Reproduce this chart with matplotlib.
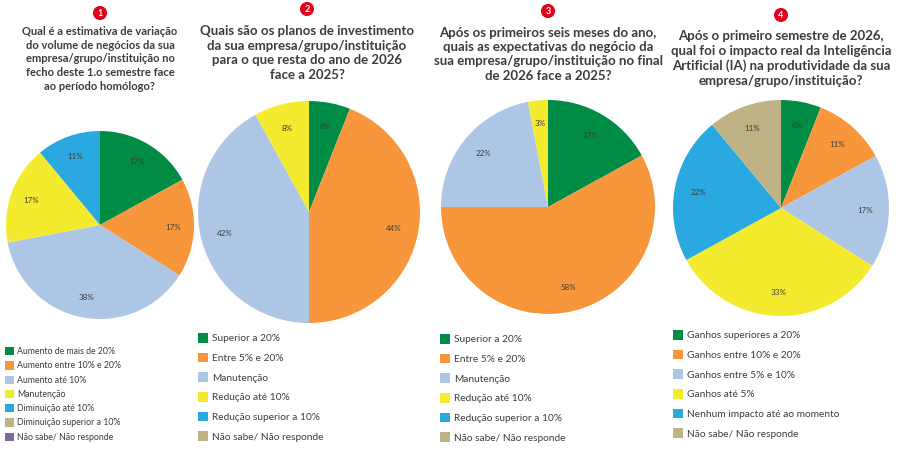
import matplotlib
matplotlib.use("Agg")
import matplotlib.pyplot as plt

plt.rcParams['font.family'] = ['Lato', 'DejaVu Sans']

# Colours shared by all four pies
GREEN = '#008c45'
ORANGE = '#f7963a'
LIGHTBLUE = '#aec6e6'
YELLOW = '#f5eb2e'
BLUE = '#29a9e0'
TAN = '#bfb285'
PURPLE = '#7e67a0'
TEXT = '#3c3c3c'
BADGE = '#e3001b'

# --- data ---
q1_title = ("Qual é a estimativa de variação\ndo volume de negócios da sua\n"
            "empresa/grupo/instituição no\nfecho deste 1.o semestre face\n"
            "ao período homólogo?")
q1_labels = ["Aumento de mais de 20%", "Aumento entre 10% e 20%", "Aumento até 10%",
             "Manutenção", "Diminuição até 10%", "Diminuição superior a 10%",
             "Não sabe/ Não responde"]
q1_values = [17, 17, 38, 17, 11, 0, 0]

q2_title = ("Quais são os planos de investimento\nda sua empresa/grupo/instituição\n"
            "para o que resta do ano de 2026\nface a 2025?")
q2_labels = ["Superior a 20%", "Entre 5% e 20%", "Manutenção", "Redução até 10%",
             "Redução superior a 10%", "Não sabe/ Não responde"]
q2_values = [6, 44, 42, 8, 0, 0]

q3_title = ("Após os primeiros seis meses do ano,\nquais as expectativas do negócio da\n"
            "sua empresa/grupo/instituição no final\nde 2026 face a 2025?")
q3_labels = ["Superior a 20%", "Entre 5% e 20%", "Manutenção", "Redução até 10%",
             "Redução superior a 10%", "Não sabe/ Não responde"]
q3_values = [17, 58, 22, 3, 0, 0]

q4_title = ("Após o primeiro semestre de 2026,\nqual foi o impacto real da Inteligência\n"
            "Artificial (IA) na produtividade da sua\nempresa/grupo/instituição?")
q4_labels = ["Ganhos superiores a 20%", "Ganhos entre 10% e 20%", "Ganhos entre 5% e 10%",
             "Ganhos até 5%", "Nenhum impacto até ao momento", "Não sabe/ Não responde"]
q4_values = [6, 11, 17, 33, 22, 11]

colors7 = [GREEN, ORANGE, LIGHTBLUE, YELLOW, BLUE, TAN, PURPLE]

W, H = 900, 450
fig = plt.figure(figsize=(9, 4.5), dpi=100)


def pct_label(p):
    return f"{p:.0f}%" if p >= 0.5 else ""


def draw_panel(num, title, labels, values, cx, cy, r,
               title_x, title_y, title_size, title_ls, badge_y,
               leg_x, leg_y, leg_size, leg_spacing):
    ax = fig.add_axes([(cx - r) / W, 1 - (cy + r) / H, 2 * r / W, 2 * r / H])
    wedges, _, autotexts = ax.pie(values, colors=colors7[:len(values)],
                                  startangle=90, counterclock=False,
                                  autopct=pct_label, pctdistance=0.78,
                                  wedgeprops=dict(linewidth=0),
                                  textprops=dict(fontsize=5.8, color=TEXT))
    ax.set_xlim(-1, 1)
    ax.set_ylim(-1, 1)
    ax.set_aspect('equal')

    # numbered red badge above the question
    fig.text(title_x / W, 1 - badge_y / H, str(num), ha='center', va='center',
             fontsize=6.5, fontweight='bold', color='white',
             bbox=dict(boxstyle='circle,pad=0.28', fc=BADGE, ec='none'))
    fig.text(title_x / W, 1 - title_y / H, title, ha='center', va='top',
             fontsize=title_size, fontweight='bold', color=TEXT,
             linespacing=title_ls)

    fig.legend(wedges, labels, loc='upper left',
               bbox_to_anchor=(leg_x / W, 1 - leg_y / H),
               frameon=False, fontsize=leg_size, labelcolor=TEXT,
               handlelength=1.0, handleheight=1.1, handletextpad=0.4,
               labelspacing=leg_spacing, borderpad=0, borderaxespad=0)


draw_panel(1, q1_title, q1_labels, q1_values, 100, 225, 94,
           100, 26, 8, 1.3, 13, 5, 347, 6.3, 0.58)
draw_panel(2, q2_title, q2_labels, q2_values, 309, 212, 111,
           307, 25, 9.5, 1.27, 9, 198, 333, 7.3, 0.92)
draw_panel(3, q3_title, q3_labels, q3_values, 548, 207, 107,
           548, 27, 9.5, 1.22, 11, 440, 334, 7.3, 0.92)
draw_panel(4, q4_title, q4_labels, q4_values, 781, 208, 108,
           781, 30, 9.5, 1.27, 15, 673, 330, 7.3, 0.92)

fig.savefig("out.png", dpi=100, facecolor='white')
